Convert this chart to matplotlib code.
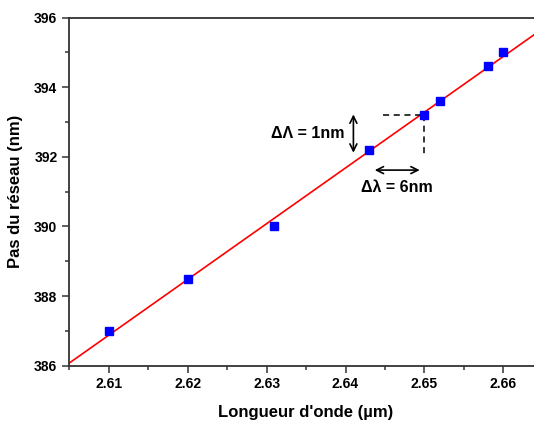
import matplotlib
matplotlib.use("Agg")
import matplotlib.pyplot as plt
from matplotlib.ticker import MultipleLocator
import numpy as np

plt.rcParams['font.family'] = ['Liberation Sans', 'DejaVu Sans']
plt.rcParams['font.weight'] = 'bold'

# measured points
wavelength = [2.610, 2.620, 2.631, 2.643, 2.650, 2.652, 2.658, 2.660]  # µm
pitch = [387.0, 388.5, 390.0, 392.2, 393.2, 393.6, 394.6, 395.0]       # nm

# linear fit
slope, intercept = np.polyfit(wavelength, pitch, 1)
xfit = np.array([2.605, 2.665])
yfit = slope * xfit + intercept

fig = plt.figure(figsize=(5.34, 4.21), dpi=100)
ax = fig.add_axes([0.1296, 0.1314, 0.887, 0.8266])

ax.plot(xfit, yfit, color='red', lw=1.2, zorder=2)
ax.plot(wavelength, pitch, 's', color='#0000ff', ms=5.3, mec='#0000ff', zorder=3)

# delta construction
ax.plot([2.6448, 2.650], [393.2, 393.2], color='black', lw=1.1, ls=(0, (4, 3)))
ax.plot([2.650, 2.650], [393.2, 392.0], color='black', lw=1.1, ls=(0, (4, 3)))
arrow = dict(arrowstyle='<->, head_length=0.5, head_width=0.25', color='black',
             lw=1.2, shrinkA=0, shrinkB=0)
ax.annotate('', xy=(2.641, 393.22), xytext=(2.641, 392.12), arrowprops=arrow)
ax.annotate('', xy=(2.6437, 391.62), xytext=(2.6494, 391.62), arrowprops=arrow)
ax.text(2.6399, 392.66, 'ΔΛ = 1nm', ha='right', va='center', fontsize=11.5, fontweight='bold')
ax.text(2.6465, 391.11, 'Δλ = 6nm', ha='center', va='center', fontsize=11.5, fontweight='bold')

ax.set_xlim(2.605, 2.665)
ax.set_ylim(386, 396)
ax.xaxis.set_major_locator(MultipleLocator(0.01))
ax.xaxis.set_minor_locator(MultipleLocator(0.005))
ax.yaxis.set_major_locator(MultipleLocator(2))
ax.yaxis.set_minor_locator(MultipleLocator(1))
ax.tick_params(which='both', direction='out', width=1.1, color='#333333',
               labelsize=10, top=False, right=False)
ax.tick_params(which='major', length=5)
ax.tick_params(which='minor', length=3)
for lab in ax.get_xticklabels() + ax.get_yticklabels():
    lab.set_fontweight('bold')
for s in ax.spines.values():
    s.set_linewidth(1.3)
    s.set_color('#333333')

ax.set_xlabel("Longueur d'onde (µm)", fontsize=12, fontweight='bold', labelpad=10)
ax.set_ylabel("Pas du réseau (nm)", fontsize=12, fontweight='bold', labelpad=8)

fig.savefig('out.png', dpi=100)
